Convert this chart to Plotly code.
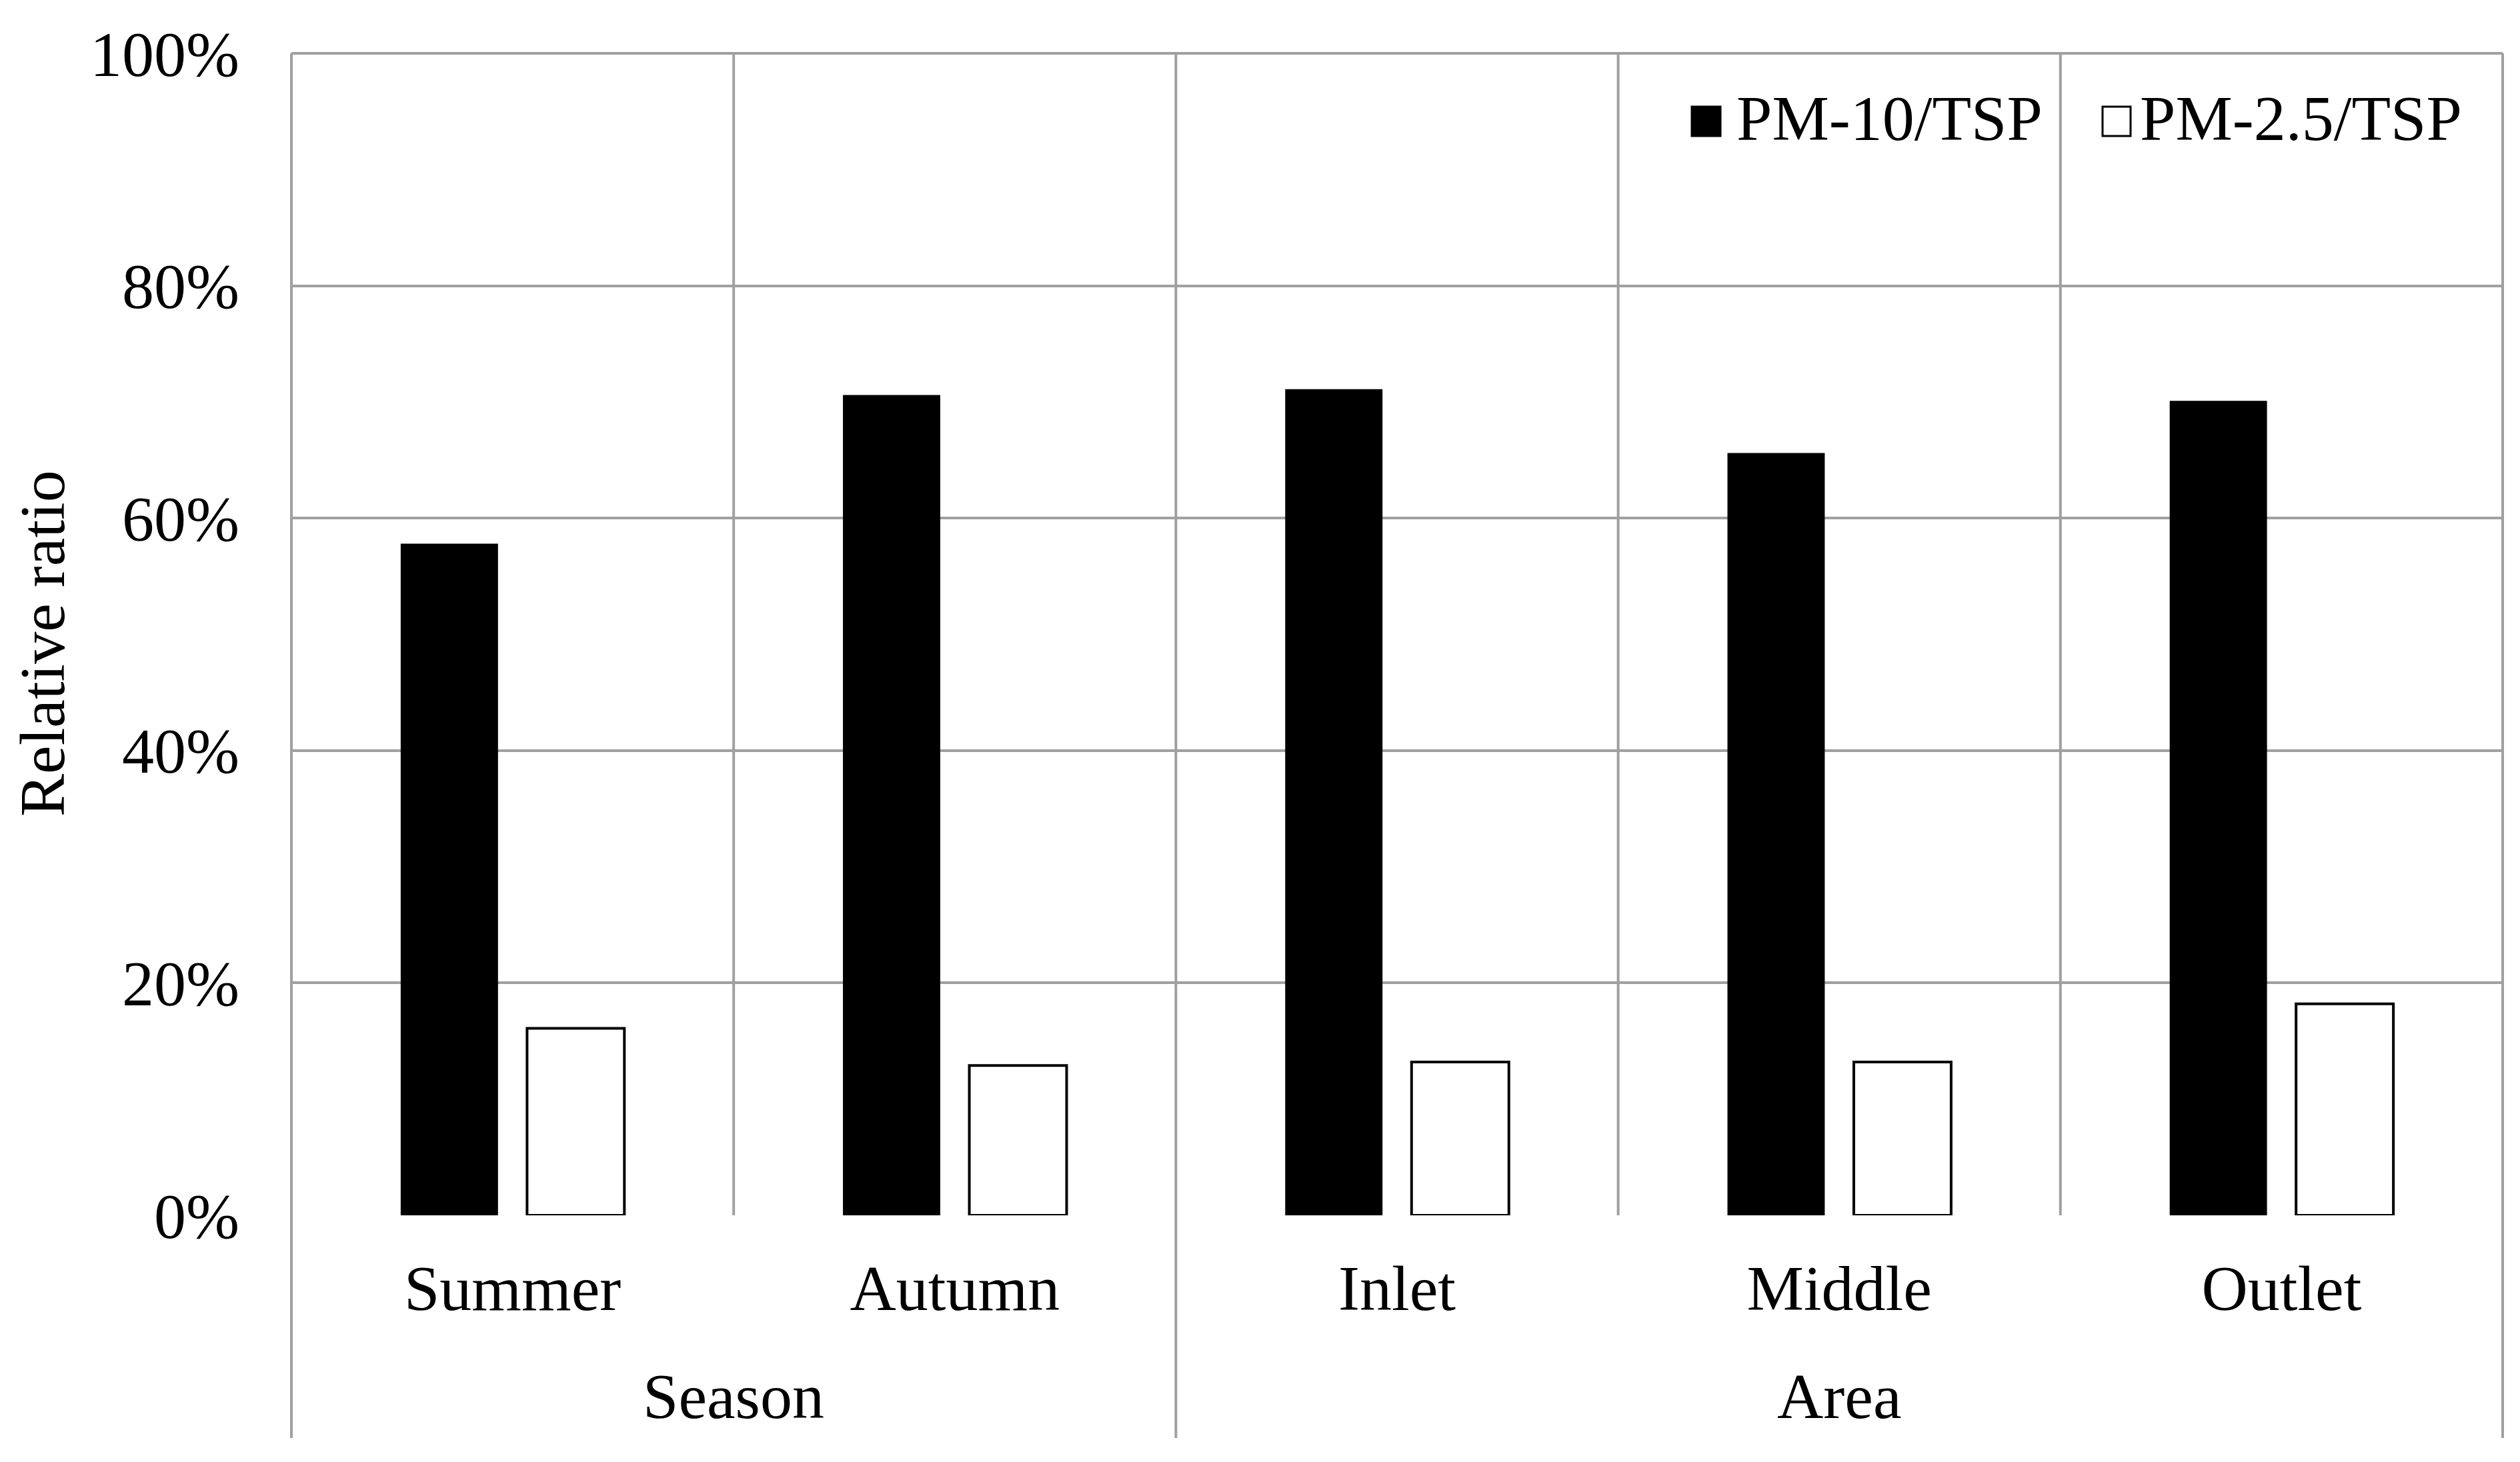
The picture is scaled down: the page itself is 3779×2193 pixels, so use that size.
import plotly.graph_objects as go

categories = ["Summer", "Autumn", "Inlet", "Middle", "Outlet"]
groups = ["Season", "Area"]
group_spans = [(0, 2), (2, 5)]
pm10_tsp = [0.578, 0.706, 0.711, 0.656, 0.701]
pm25_tsp = [0.161, 0.129, 0.132, 0.132, 0.182]
series_names = ["PM-10/TSP", "PM-2.5/TSP"]
y_ticks = [0, 0.2, 0.4, 0.6, 0.8, 1.0]

FONT = "Liberation Serif, Times New Roman, serif"
FS = 96
GRID = "#a0a0a0"
OFF = 8  # default page body margin
W, H = 3779 - 2 * OFF, 2193 - 2 * OFF
# target pixel positions in the window (reference coordinates)
LEFT_PX, RIGHT_PX, TOP_PX, ZERO_PX = 437, 3753, 80, 1823
L = LEFT_PX - OFF
T = TOP_PX - OFF
R = W - (RIGHT_PX - OFF)
B = H - (ZERO_PX - OFF)
pw, ph = RIGHT_PX - LEFT_PX, ZERO_PX - TOP_PX

def px_x(x):
    return (x - LEFT_PX) / pw

def px_y(y):
    return (ZERO_PX - y) / ph

fig = go.Figure()
fig.add_trace(go.Bar(x=categories, y=pm10_tsp, name=series_names[0],
                     marker=dict(color="black", line=dict(width=0))))
fig.add_trace(go.Bar(x=categories, y=pm25_tsp, name=series_names[1],
                     marker=dict(color="white", line=dict(color="black", width=4))))

shapes = []
n = len(categories)
bottom = px_y(2157)
group_edges = {0, 2, 5}
for k in range(n + 1):
    y0 = bottom if k in group_edges else 0
    shapes.append(dict(type="line", xref="paper", yref="paper", x0=k / n, x1=k / n,
                       y0=y0, y1=1, line=dict(color=GRID, width=4), layer="below"))
shapes.append(dict(type="line", xref="paper", yref="paper", x0=0, x1=1, y0=1, y1=1,
                   line=dict(color=GRID, width=4), layer="below"))

# manual legend
sq = [(2537, 2580), (3153, 3195)]
fills = ["black", "white"]
text_x = [2602, 3207]
annotations = []
for i in range(2):
    shapes.append(dict(type="rect", xref="paper", yref="paper",
                       x0=px_x(sq[i][0]), x1=px_x(sq[i][1]),
                       y0=px_y(204), y1=px_y(160),
                       fillcolor=fills[i], line=dict(color="black", width=3), layer="above"))
    annotations.append(dict(text=series_names[i], xref="paper", yref="paper",
                            x=px_x(text_x[i]), y=px_y(177), xanchor="left", yanchor="middle",
                            showarrow=False, font=dict(family=FONT, size=FS, color="black")))

for g, (a, b) in zip(groups, group_spans):
    annotations.append(dict(text=g, xref="paper", yref="paper", x=(a + b) / 2 / n,
                            y=px_y(2094), xanchor="center", yanchor="middle", showarrow=False,
                            font=dict(family=FONT, size=FS, color="black")))

annotations.append(dict(text="Relative ratio", xref="paper", yref="paper", x=px_x(64),
                        y=px_y(965), xanchor="center", yanchor="middle", textangle=-90,
                        showarrow=False, font=dict(family=FONT, size=FS, color="black")))

fig.update_layout(
    width=W, height=H,
    margin=dict(l=L, r=R, t=T, b=B, autoexpand=False),
    paper_bgcolor="white", plot_bgcolor="white",
    barmode="group", bargap=0.4285, bargroupgap=0.23,
    showlegend=False,
    font=dict(family=FONT, size=FS, color="black"),
    shapes=shapes, annotations=annotations,
)
fig.update_xaxes(type="category", showgrid=False, zeroline=False, showline=False,
                 ticks="", ticklabelstandoff=45,
                 tickfont=dict(family=FONT, size=FS, color="black"))
fig.update_yaxes(range=[0, 1], tickvals=y_ticks, tickformat=".0%", showgrid=True,
                 gridcolor=GRID, gridwidth=4, zeroline=False, showline=False,
                 ticks="", ticklabelstandoff=77,
                 tickfont=dict(family=FONT, size=FS, color="black"))

fig.write_html("out.html")
